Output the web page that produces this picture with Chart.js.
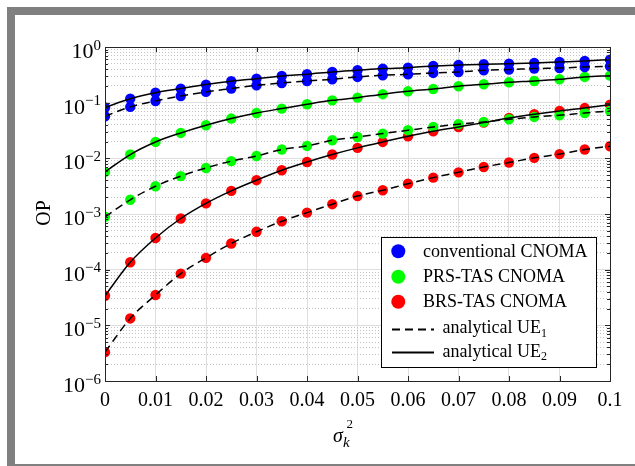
<!DOCTYPE html>
<html>
<head>
<meta charset="utf-8">
<script src="https://cdn.jsdelivr.net/npm/chart.js@4.4.1/dist/chart.umd.min.js"></script>
<style>
  html, body { margin: 0; padding: 0; background: #fff; overflow: hidden; }
  canvas { display: block; }
</style>
</head>
<body>
<canvas id="op" width="635" height="466"></canvas>
<script>
// Channel estimation error variance (x axis)
const sigma = [0, 0.005, 0.01, 0.015, 0.02, 0.025, 0.03, 0.035, 0.04, 0.045, 0.05,
               0.055, 0.06, 0.065, 0.07, 0.075, 0.08, 0.085, 0.09, 0.095, 0.1];

// Outage probability per scheme and user
const convUE1 = [0.057, 0.084, 0.107, 0.132, 0.156, 0.179, 0.205, 0.226, 0.245, 0.263, 0.29,
                 0.31, 0.323, 0.342, 0.356, 0.382, 0.393, 0.409, 0.42, 0.437, 0.45];
const convUE2 = [0.082, 0.118, 0.151, 0.179, 0.211, 0.242, 0.27, 0.302, 0.324, 0.356, 0.382,
                 0.409, 0.426, 0.457, 0.475, 0.489, 0.502, 0.516, 0.538, 0.561, 0.593];
const prsUE1  = [0.00089, 0.0018, 0.00315, 0.0048, 0.0067, 0.0089, 0.011, 0.0144, 0.0167, 0.0211, 0.0242,
                 0.0278, 0.0319, 0.0366, 0.041, 0.045, 0.0503, 0.0554, 0.0594, 0.0653, 0.071];
const prsUE2  = [0.0057, 0.0117, 0.0197, 0.0286, 0.0393, 0.0518, 0.0653, 0.0783, 0.0935, 0.11, 0.123,
                 0.142, 0.16, 0.176, 0.197, 0.214, 0.232, 0.245, 0.263, 0.29, 0.306];
const brsUE1  = [3.3e-6, 1.33e-5, 3.5e-5, 8.5e-5, 1.63e-4, 2.95e-4, 4.8e-4, 7.4e-4, 1.06e-3, 1.5e-3, 0.0021,
                 0.00267, 0.0035, 0.0045, 0.0056, 0.007, 0.0084, 0.0102, 0.0119, 0.0144, 0.0165];
const brsUE2  = [3.4e-5, 1.36e-4, 3.7e-4, 8.3e-4, 0.00155, 0.0026, 0.00405, 0.0061, 0.0086, 0.0117, 0.0154,
                 0.0197, 0.0249, 0.0307, 0.0366, 0.0438, 0.053, 0.062, 0.071, 0.08, 0.092];

// Axis ticks
const xTicks = [0, 0.01, 0.02, 0.03, 0.04, 0.05, 0.06, 0.07, 0.08, 0.09, 0.1];
const xTickLabels = ['0', '0.01', '0.02', '0.03', '0.04', '0.05', '0.06', '0.07', '0.08', '0.09', '0.1'];
const yExponents = [-6, -5, -4, -3, -2, -1, 0];
const yMinorMultipliers = [2, 3, 4, 5, 6, 7, 8, 9];

// Legend entries
const schemeNames = ['conventional CNOMA', 'PRS-TAS CNOMA', 'BRS-TAS CNOMA'];
const schemeColors = ['#0000ff', '#00ff00', '#ff0000'];

const SERIF = '"Liberation Serif", "Times New Roman", serif';
const AXIS_COLOR = '#262626';

const pts = arr => sigma.map((s, i) => ({ x: s, y: arr[i] }));

function curve(arr, dashed) {
  return {
    data: pts(arr), borderColor: '#000', borderWidth: 1.5,
    borderDash: dashed ? [8, 5] : [], pointRadius: 0, fill: false,
    cubicInterpolationMode: 'monotone', xAxisID: 'x', yAxisID: 'y'
  };
}
function markers(arr, color) {
  return {
    data: pts(arr), showLine: false, pointRadius: 5.2, pointHoverRadius: 5.2,
    pointBackgroundColor: color, pointBorderWidth: 0, borderColor: color,
    xAxisID: 'x', yAxisID: 'y'
  };
}

const zeroSize = s => { if (s.isHorizontal()) s.height = 0; else s.width = 0; };

// Gray page frame
const framePlugin = {
  id: 'frame',
  beforeDraw(chart) {
    const ctx = chart.ctx;
    ctx.save();
    ctx.fillStyle = '#ffffff';
    ctx.fillRect(0, 0, chart.width, chart.height);
    ctx.fillStyle = '#808080';
    ctx.fillRect(7, 7, chart.width - 7, 8);
    ctx.fillRect(7, 7, 8, chart.height - 7);
    ctx.fillRect(7, 464, chart.width - 7, 2);
    ctx.restore();
  }
};

// Axes box, inward ticks, tick labels, axis titles and legend
const decorPlugin = {
  id: 'decor',
  afterDraw(chart) {
    const ctx = chart.ctx;
    const xs = chart.scales.x, ys = chart.scales.y;
    const { left, right, top, bottom } = chart.chartArea;
    ctx.save();

    // ticks
    ctx.strokeStyle = AXIS_COLOR;
    ctx.lineWidth = 1;
    ctx.beginPath();
    xTicks.forEach(v => {
      const px = Math.round(xs.getPixelForValue(v)) + 0.5;
      ctx.moveTo(px, bottom); ctx.lineTo(px, bottom - 5);
      ctx.moveTo(px, top); ctx.lineTo(px, top + 5);
    });
    yExponents.forEach(e => {
      const py = Math.round(ys.getPixelForValue(Math.pow(10, e))) + 0.5;
      ctx.moveTo(left, py); ctx.lineTo(left + 5, py);
      ctx.moveTo(right, py); ctx.lineTo(right - 5, py);
      if (e < 0) {
        yMinorMultipliers.forEach(m => {
          const pm = Math.round(ys.getPixelForValue(m * Math.pow(10, e))) + 0.5;
          ctx.moveTo(left, pm); ctx.lineTo(left + 3, pm);
          ctx.moveTo(right, pm); ctx.lineTo(right - 3, pm);
        });
      }
    });
    ctx.stroke();

    // box
    ctx.strokeStyle = AXIS_COLOR;
    ctx.strokeRect(Math.round(left) + 0.5, Math.round(top) + 0.5,
                   Math.round(right - left), Math.round(bottom - top));

    // x tick labels
    ctx.fillStyle = '#000';
    ctx.font = '20px ' + SERIF;
    ctx.textAlign = 'center';
    ctx.textBaseline = 'alphabetic';
    xTicks.forEach((v, i) => {
      ctx.fillText(xTickLabels[i], xs.getPixelForValue(v), 405.5);
    });

    // y tick labels: 10 with superscript exponent
    ctx.textAlign = 'left';
    yExponents.forEach(e => {
      const py = ys.getPixelForValue(Math.pow(10, e));
      const sup = e === 0 ? '0' : '\u2212' + Math.abs(e);
      ctx.font = '15px ' + SERIF;
      const sw = ctx.measureText(sup).width;
      ctx.font = '22px ' + SERIF;
      const bw = ctx.measureText('10').width;
      const xr = 101;
      ctx.fillText('10', xr - sw - bw, py + 11);
      ctx.font = '15px ' + SERIF;
      ctx.fillText(sup, xr - sw, py + 2.5);
    });

    // x axis title: sigma_k^2
    ctx.font = 'italic 20px ' + SERIF;
    ctx.fillText('\u03c3', 333, 442);
    ctx.font = 'italic 15px ' + SERIF;
    ctx.fillText('k', 343, 447);
    ctx.font = '13px ' + SERIF;
    ctx.fillText('2', 346.5, 428);

    // y axis title
    ctx.save();
    ctx.translate(50, 213);
    ctx.rotate(-Math.PI / 2);
    ctx.font = '20px ' + SERIF;
    ctx.textAlign = 'center';
    ctx.fillText('OP', 0, 0);
    ctx.restore();

    // legend
    ctx.fillStyle = '#fff';
    ctx.fillRect(381.5, 237.5, 215, 130);
    ctx.strokeStyle = '#000';
    ctx.lineWidth = 1;
    ctx.strokeRect(381.5, 237.5, 215, 130);
    const rowBase = [256.7, 282.3, 307.3];
    schemeNames.forEach((name, i) => {
      ctx.fillStyle = schemeColors[i];
      ctx.beginPath();
      ctx.arc(398.3, rowBase[i] - 5.5, 7, 0, Math.PI * 2);
      ctx.fill();
      ctx.fillStyle = '#000';
      ctx.font = '18px ' + SERIF;
      ctx.fillText(name, 423, rowBase[i]);
    });
    const lineRows = [{ y: 329.5, base: 333.3, dash: [8, 5], sub: '1' },
                      { y: 352.5, base: 356.7, dash: [], sub: '2' }];
    lineRows.forEach(r => {
      ctx.strokeStyle = '#000';
      ctx.lineWidth = 2;
      ctx.setLineDash(r.dash);
      ctx.beginPath();
      ctx.moveTo(392, r.y); ctx.lineTo(434, r.y);
      ctx.stroke();
      ctx.setLineDash([]);
      ctx.fillStyle = '#000';
      ctx.font = '18px ' + SERIF;
      const t = 'analytical UE';
      ctx.fillText(t, 442.5, r.base);
      const w = ctx.measureText(t).width;
      ctx.font = '12px ' + SERIF;
      ctx.fillText(r.sub, 442.5 + w, r.base + 3.5);
    });

    ctx.restore();
  }
};

new Chart(document.getElementById('op'), {
  type: 'line',
  data: {
    datasets: [
      curve(convUE1, true), curve(convUE2, false),
      curve(prsUE1, true), curve(prsUE2, false),
      curve(brsUE1, true), curve(brsUE2, false),
      markers(convUE1, schemeColors[0]), markers(convUE2, schemeColors[0]),
      markers(prsUE1, schemeColors[1]), markers(prsUE2, schemeColors[1]),
      markers(brsUE1, schemeColors[2]), markers(brsUE2, schemeColors[2])
    ]
  },
  options: {
    responsive: false,
    animation: false,
    events: [],
    layout: { padding: { left: 105, top: 47, right: 25, bottom: 85 } },
    plugins: { legend: { display: false }, tooltip: { enabled: false } },
    scales: {
      x: {
        type: 'linear', min: 0, max: 0.1, position: 'bottom',
        afterBuildTicks: s => { s.ticks = xTicks.map(v => ({ value: v })); },
        afterFit: zeroSize,
        ticks: { display: false },
        grid: { color: '#dedede', lineWidth: 1, drawTicks: false },
        border: { display: false }
      },
      yMinor: {
        type: 'logarithmic', min: 1e-6, max: 1, position: 'left',
        afterBuildTicks: s => {
          const t = [];
          yExponents.slice(0, -1).forEach(e =>
            yMinorMultipliers.forEach(m => t.push({ value: m * Math.pow(10, e) })));
          s.ticks = t;
        },
        afterFit: zeroSize,
        ticks: { display: false },
        grid: { color: '#c4c4c4', lineWidth: 1, drawTicks: false },
        border: { display: false, dash: [1, 2] }
      },
      y: {
        type: 'logarithmic', min: 1e-6, max: 1, position: 'left',
        afterBuildTicks: s => { s.ticks = yExponents.map(e => ({ value: Math.pow(10, e), major: true })); },
        afterFit: zeroSize,
        ticks: { display: false },
        grid: { color: '#dedede', lineWidth: 1, drawTicks: false },
        border: { display: false }
      }
    }
  },
  plugins: [framePlugin, decorPlugin]
});
</script>
</body>
</html>
